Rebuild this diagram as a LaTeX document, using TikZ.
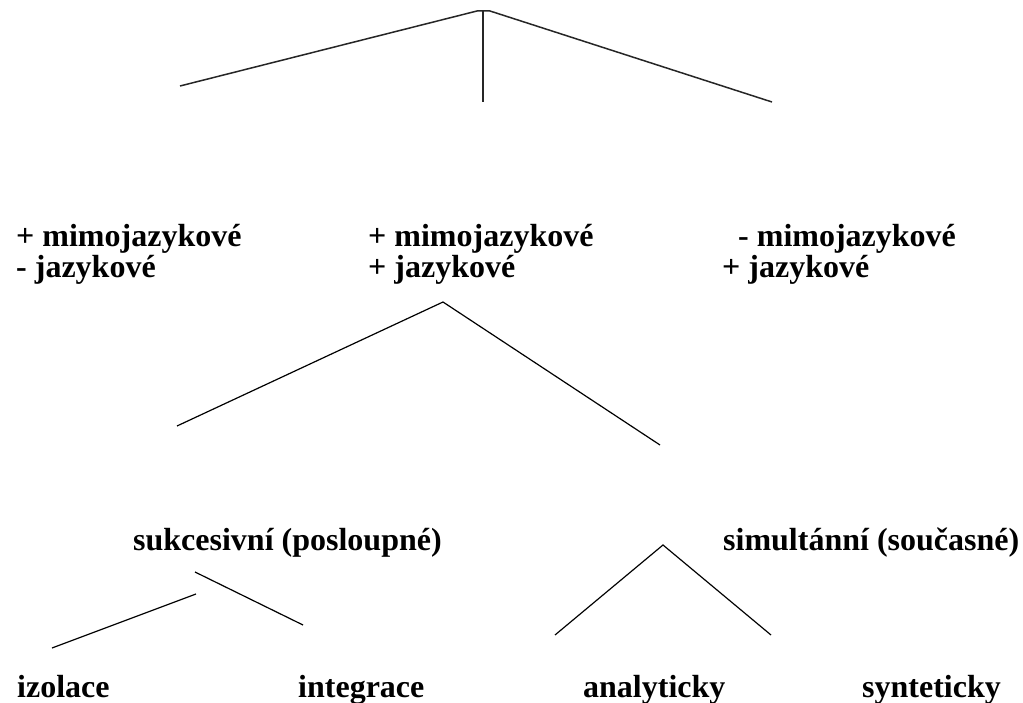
\documentclass[tikz,border=0pt]{standalone}
\usepackage{fontspec}
\setmainfont{Liberation Serif}
\begin{document}
\begin{tikzpicture}[x=1pt,y=-1pt,
  lbl/.style={anchor=base west, inner sep=0pt, font=\bfseries\fontsize{32}{38}\selectfont},
  branch/.style={line width=1.2pt, black},
  topbranch/.style={line width=1.5pt, black!85}]
\useasboundingbox (0,0) rectangle (1023,703);
% labels
\node[lbl] (t1a) at (16,247) {+ mimojazykové};
\node[lbl] (t1b) at (16,278) {- jazykové};
\node[lbl] (t2a) at (368,247) {+ mimojazykové};
\node[lbl] (t2b) at (368,278) {+ jazykové};
\node[lbl] (t3a) at (738,247) {- mimojazykové};
\node[lbl] (t3b) at (722,278) {+ jazykové};
\node[lbl] (s1) at (133,550) {sukcesivní (posloupné)};
\node[lbl] (s2) at (723,550) {simultánní (současné)};
\node[lbl] (b1) at (17,697) {izolace};
\node[lbl] (b2) at (298,697) {integrace};
\node[lbl] (b3) at (583,697) {analyticky};
\node[lbl] (b4) at (862,697) {synteticky};
% branch points
\coordinate (ta) at (483,11);
\coordinate (tal) at (477,11);
\coordinate (tar) at (490,11);
\coordinate (tl) at (180,86);
\coordinate (tm) at (483,102);
\coordinate (tr) at (772,102);
\coordinate (ma) at (443,302);
\coordinate (ml) at (177,426);
\coordinate (mr) at (660,445);
\coordinate (lra) at (195,572);
\coordinate (lrb) at (303,625);
\coordinate (lla) at (196,594);
\coordinate (llb) at (52,648);
\coordinate (ra) at (663,545);
\coordinate (rl) at (555,635);
\coordinate (rr) at (771,635);
% connectors
\draw[topbranch] (tl) -- (tal) -- (tar) -- (tr);
\draw[topbranch] (ta) -- (tm);
\draw[branch] (ml) -- (ma) -- (mr);
\draw[branch] (lra) -- (lrb);
\draw[branch] (lla) -- (llb);
\draw[branch] (rl) -- (ra) -- (rr);
\end{tikzpicture}
\end{document}
